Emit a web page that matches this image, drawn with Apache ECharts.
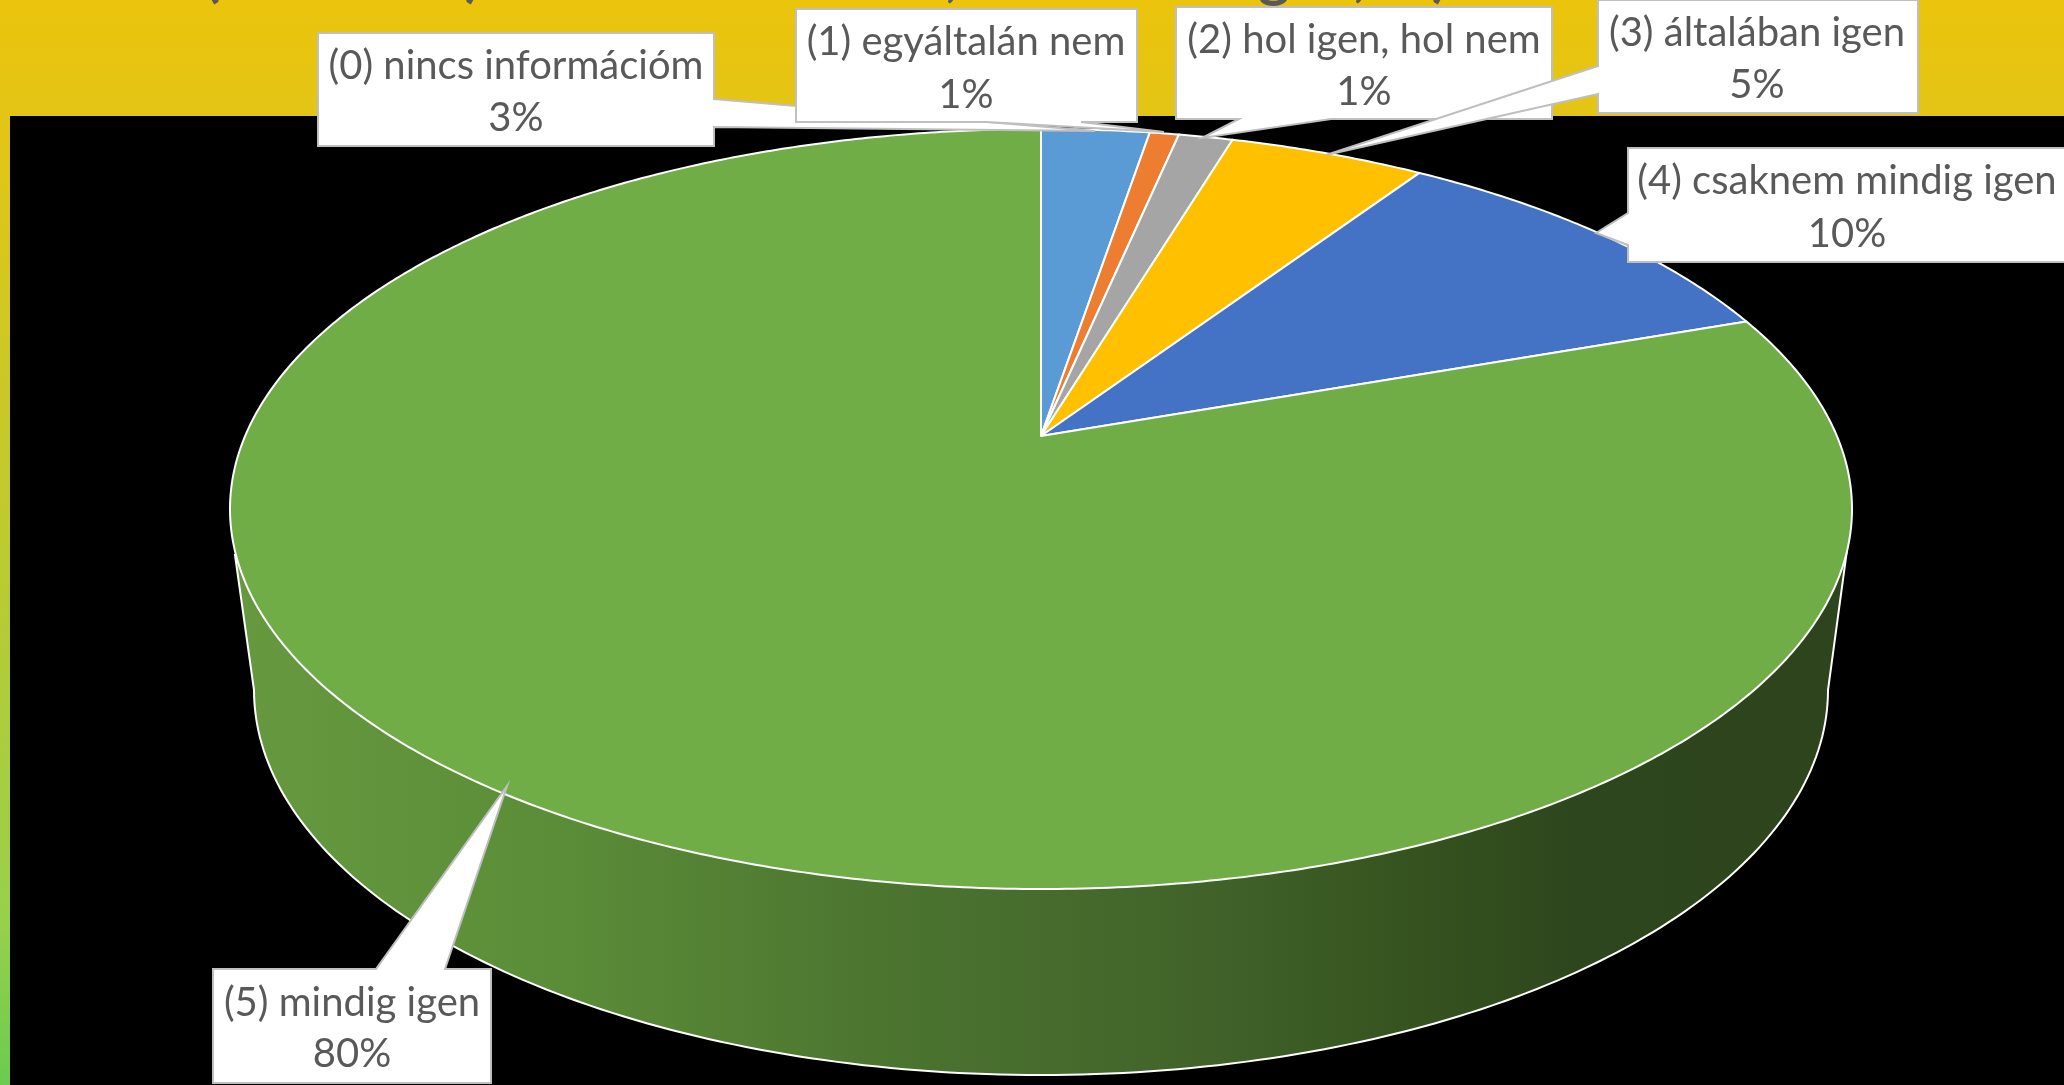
<!DOCTYPE html>
<html>
<head>
<meta charset="utf-8">
<style>
  html, body { margin: 0; padding: 0; background: #000; }
  #main { width: 2064px; height: 1085px; }
</style>
<script src="https://cdn.jsdelivr.net/npm/echarts@6/dist/echarts.min.js"></script>
</head>
<body>
<div id="main"></div>
<script>
// data (the labels round these)
var categories = ['(0) nincs információm', '(1) egyáltalán nem', '(2) hol igen, hol nem', '(3) általában igen', '(4) csaknem mindig igen', '(5) mindig igen'];
var values = [2.6, 0.7, 1.3, 4.7, 10.3, 80.4];
var sliceColors = ['#5B9BD5', '#ED7D31', '#A5A5A5', '#FFC000', '#4472C4', '#70AD47'];
// what is left visible of the cut off title
var titleGlyphs = ['(', ')', ',', 'g', ',', ')', 'g', ',', ')'];

// ---- layout ----
var TOP = { cx: 1041, cy: 509, a: 811, b: 380, k: 0.192 };
var BOTTOM = { cx: 1041, cy: 690, a: 787, b: 385 };
var titleGlyphX = [212, 473, 952, 1274, 1360, 1440, 1699, 1790, 1871];
// callout outlines: box with its wedge, then text centre x and the two line centres y
var callouts = [
  { path: [[318, 33], [714, 33], [714, 99], [1095, 131], [714, 127], [714, 146], [318, 146]], x: 516, y: [66, 118] },
  { path: [[796, 9], [1137, 9], [1137, 122], [1081, 122], [1164, 132], [987, 122], [796, 122]], x: 966, y: [42, 95] },
  { path: [[1176, 7], [1552, 7], [1552, 119], [1331, 119], [1202, 138], [1239, 119], [1176, 119]], x: 1364, y: [40, 92] },
  { path: [[1598, 0], [1918, 0], [1918, 113], [1598, 113], [1598, 94], [1326, 155], [1598, 66]], x: 1757, y: [33, 85] },
  { path: [[1628, 148], [2070, 148], [2070, 262], [1628, 262], [1628, 245], [1596, 233], [1628, 213]], x: 1847, y: [181, 234] },
  { path: [[213, 969], [376, 969], [507, 786], [445, 969], [491, 969], [491, 1083], [213, 1083]], x: 352, y: [1003, 1054] }
];

var total = values.reduce(function (s, v) { return s + v; }, 0);

// point on the top face rim, t = share of the full turn, clockwise from 12 o'clock.
// The perspective moves the pie centre above the middle of the ellipse.
function rimPoint(t) {
  var a = t * 2 * Math.PI;
  var x = Math.sin(a), y = -Math.cos(a);
  var d = 1 - TOP.k * y;
  return [TOP.cx + TOP.a * x * Math.sqrt(1 - TOP.k * TOP.k) / d, TOP.cy + TOP.b * (y - TOP.k) / d];
}
var apex = [TOP.cx, TOP.cy - TOP.b * TOP.k];

function renderSlice(params, api) {
  var i = params.dataIndex;
  var start = 0;
  for (var n = 0; n < i; n++) start += values[n];
  var from = start / total, to = (start + api.value(1)) / total;
  var pts = [apex];
  var steps = Math.max(2, Math.ceil((to - from) * 720));
  for (var s = 0; s <= steps; s++) pts.push(rimPoint(from + (to - from) * s / steps));
  return {
    type: 'polygon',
    shape: { points: pts },
    style: { fill: sliceColors[i], stroke: '#fff', lineWidth: 2, lineJoin: 'round' }
  };
}

// side wall: lower half of the bottom ellipse joined up to the top face
function renderWall() {
  var pts = [[235, 555]];
  for (var d = 180; d >= 0; d -= 1) {
    var r = d * Math.PI / 180;
    pts.push([BOTTOM.cx + BOTTOM.a * Math.cos(r), BOTTOM.cy + BOTTOM.b * Math.sin(r)]);
  }
  pts.push([1847, 550]);
  return {
    type: 'polygon',
    shape: { points: pts },
    style: {
      stroke: '#fff',
      lineWidth: 2,
      fill: new echarts.graphic.LinearGradient(0, 0, 1, 0, [
        { offset: 0, color: '#66993F' },
        { offset: 0.2, color: '#5B8D38' },
        { offset: 0.4, color: '#4C7530' },
        { offset: 0.6, color: '#41632A' },
        { offset: 0.72, color: '#36541F' },
        { offset: 0.83, color: '#2E461D' },
        { offset: 1, color: '#2D441C' }
      ])
    }
  };
}

function labelText(text, x, y) {
  return {
    type: 'text',
    x: x,
    y: y,
    style: { text: text, x: 0, y: 0, align: 'center', verticalAlign: 'middle', fill: '#595959', font: '40px Lato' }
  };
}

function renderCallout(params, api) {
  var c = callouts[params.dataIndex];
  var share = Math.round(api.value(1)) + '%';
  return {
    type: 'group',
    children: [
      { type: 'polygon', shape: { points: c.path }, style: { fill: '#fff', stroke: '#BFBFBF', lineWidth: 2 } },
      labelText(categories[params.dataIndex], c.x, c.y[0]),
      labelText(share, c.x, c.y[1])
    ]
  };
}

function renderGlyph(params) {
  return {
    type: 'text',
    x: titleGlyphX[params.dataIndex],
    y: -24,
    style: { text: titleGlyphs[params.dataIndex], align: 'center', verticalAlign: 'middle', fill: '#595959', font: 'bold 60px Lato' }
  };
}

var sliceData = values.map(function (v, i) { return [i, v]; });

var chart = echarts.init(document.getElementById('main'));
chart.setOption({
  animation: false,
  backgroundColor: new echarts.graphic.LinearGradient(0, 0, 0, 1, [
    { offset: 0, color: '#EBC40C' },
    { offset: 0.11, color: '#E3C516' },
    { offset: 0.55, color: '#B8CB34' },
    { offset: 0.85, color: '#98D04C' },
    { offset: 1, color: '#6BCB50' }
  ]),
  graphic: [
    { type: 'rect', z: 0, shape: { x: 10, y: 116, width: 2054, height: 969 }, style: { fill: '#000' } }
  ],
  series: [
    { type: 'custom', coordinateSystem: 'none', z: 2, silent: true, data: titleGlyphs.map(function (g, i) { return [i]; }), renderItem: renderGlyph },
    { type: 'custom', coordinateSystem: 'none', z: 3, silent: true, data: [[0]], renderItem: renderWall },
    { type: 'custom', coordinateSystem: 'none', z: 4, silent: true, data: sliceData, renderItem: renderSlice },
    { type: 'custom', coordinateSystem: 'none', z: 5, silent: true, data: sliceData, renderItem: renderCallout }
  ]
});
</script>
</body>
</html>
